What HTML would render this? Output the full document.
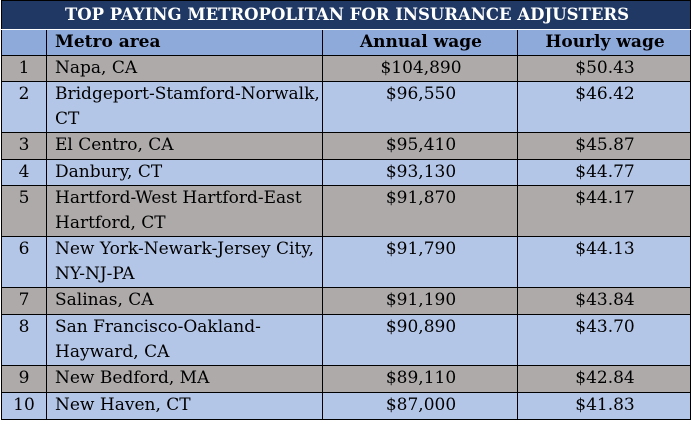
<!DOCTYPE html>
<html><head><meta charset="utf-8"><style>
body{margin:0;width:691px;height:425px;background:#fff;overflow:hidden}
table{position:absolute;left:1px;top:0;border-collapse:collapse;width:689px;table-layout:fixed;font-family:"DejaVu Serif","Liberation Serif",serif;font-size:17px;color:#000}
td{border:1px solid #000;padding:0 6px 0 8px;vertical-align:top;line-height:25px;white-space:normal}
.t td{background:#1f3864;color:#fff;font-weight:bold;text-align:center;height:28px;line-height:28px;font-size:16.5px;border-bottom:1px solid #fff}
.h td{background:#8eaadb;font-weight:bold}
.g td{background:#aeaaaa}
.b td{background:#b4c6e7}
td.c{text-align:center}
td.n{text-align:center;padding:0}
tr.r1 td{height:26px}
tr.r2 td{height:50px}
tr.s td{height:25px}
</style></head><body>
<table>
<colgroup><col style="width:45px"><col style="width:276px"><col style="width:195px"><col style="width:173px"></colgroup>
<tr class="t"><td colspan="4">TOP PAYING METROPOLITAN FOR INSURANCE ADJUSTERS</td></tr>
<tr class="h s"><td></td><td>Metro area</td><td class="c">Annual wage</td><td class="c">Hourly wage</td></tr>
<tr class="g s"><td class="n">1</td><td>Napa, CA</td><td class="c">$104,890</td><td class="c">$50.43</td></tr>
<tr class="b r2"><td class="n">2</td><td style="padding-right:0">Bridgeport-Stamford-Norwalk, CT</td><td class="c">$96,550</td><td class="c">$46.42</td></tr>
<tr class="g r1"><td class="n">3</td><td>El Centro, CA</td><td class="c">$95,410</td><td class="c">$45.87</td></tr>
<tr class="b s"><td class="n">4</td><td>Danbury, CT</td><td class="c">$93,130</td><td class="c">$44.77</td></tr>
<tr class="g r2"><td class="n">5</td><td>Hartford-West Hartford-East Hartford, CT</td><td class="c">$91,870</td><td class="c">$44.17</td></tr>
<tr class="b r2"><td class="n">6</td><td style="padding-right:0">New York-Newark-Jersey City, NY-NJ-PA</td><td class="c">$91,790</td><td class="c">$44.13</td></tr>
<tr class="g r1"><td class="n">7</td><td>Salinas, CA</td><td class="c">$91,190</td><td class="c">$43.84</td></tr>
<tr class="b r2"><td class="n">8</td><td>San Francisco-Oakland-Hayward, CA</td><td class="c">$90,890</td><td class="c">$43.70</td></tr>
<tr class="g r1"><td class="n">9</td><td>New Bedford, MA</td><td class="c">$89,110</td><td class="c">$42.84</td></tr>
<tr class="b r1"><td class="n">10</td><td>New Haven, CT</td><td class="c">$87,000</td><td class="c">$41.83</td></tr>
</table>
</body></html>
